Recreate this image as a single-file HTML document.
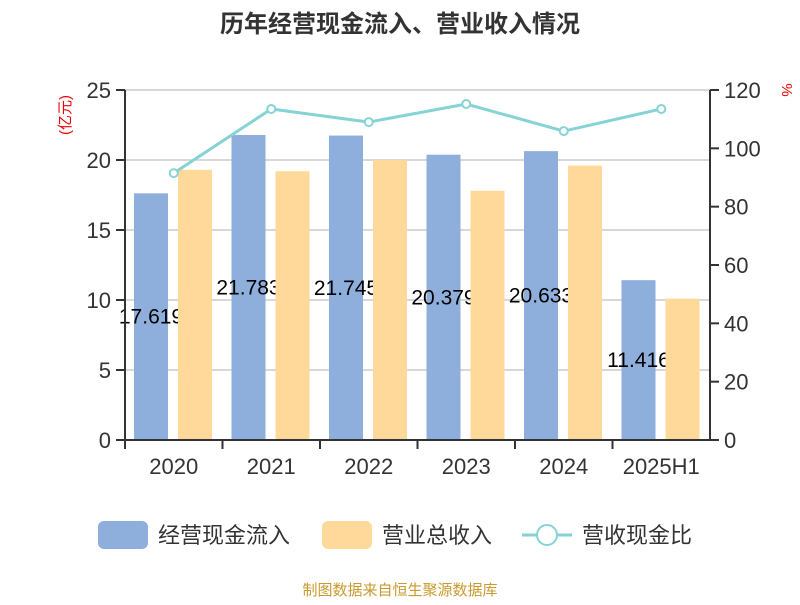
<!DOCTYPE html>
<html><head><meta charset="utf-8"><style>
body{margin:0;background:#fff;font-family:"Liberation Sans","Noto Sans CJK SC",sans-serif}
</style></head><body>
<svg width="800" height="600" xmlns="http://www.w3.org/2000/svg" font-family="Liberation Sans, Noto Sans CJK SC, sans-serif">
<text x="400" y="32" text-anchor="middle" font-size="24" font-weight="bold" fill="#333">历年经营现金流入、营业收入情况</text>
<text transform="translate(70,115) rotate(-90)" text-anchor="middle" font-size="15" fill="#e00">(亿元)</text>
<text transform="translate(782,90) rotate(90)" text-anchor="middle" font-size="15" fill="#e00">%</text>
<g id="grid"></g><g id="bars"></g><g id="axes"></g><g id="line"></g>
<g font-size="22" fill="#333">
<rect x="98" y="521" width="50" height="28" rx="6" fill="#8eaedb"/>
<text x="158" y="543">经营现金流入</text>
<rect x="322" y="521" width="50" height="28" rx="6" fill="#ffd999"/>
<text x="382" y="543">营业总收入</text>
<line x1="522" y1="535" x2="572" y2="535" stroke="#86d3d6" stroke-width="3"/>
<circle cx="547" cy="535" r="10" fill="#fff" stroke="#86d3d6" stroke-width="2"/>
<text x="582" y="543">营收现金比</text>
</g>
<text x="400" y="595" text-anchor="middle" font-size="15" fill="#c99a2e">制图数据来自恒生聚源数据库</text>
</svg>
<script>
const categories=["2020","2021","2022","2023","2024","2025H1"];
const inflow=[17.619,21.783,21.745,20.379,20.633,11.416];
const revenue=[19.3,19.2,20.0,17.8,19.6,10.1];
const ratio=[91.5,113.5,109,115.2,105.9,113.5];
const leftTicks=[0,5,10,15,20,25];
const rightTicks=[0,20,40,60,80,100,120];
const NS="http://www.w3.org/2000/svg";
const L=125,R=710,T=90,B=440;
const bw=(R-L)/categories.length;
const yL=v=>B-(v/25)*(B-T);
const yR=v=>B-(v/120)*(B-T);
function mk(tag,attrs,parent,txt){const e=document.createElementNS(NS,tag);for(const k in attrs)e.setAttribute(k,attrs[k]);if(txt!==undefined)e.textContent=txt;document.getElementById(parent).appendChild(e);return e;}
leftTicks.forEach(t=>{
 if(t>0){const g=mk('line',{x1:L,x2:R,y1:yL(t),y2:yL(t),stroke:'#ccc','stroke-width':1.5},'grid');
 
 }
 const tk=mk('line',{x1:L-9,x2:L,y1:yL(t),y2:yL(t),stroke:'#333','stroke-width':2},'axes');
 
 
 const lb=mk('text',{x:L-14,y:yL(t)+8,'text-anchor':'end','font-size':22,fill:'#333'},'axes',String(t));
 
 
});
rightTicks.forEach(t=>{
 const tk=mk('line',{x1:R,x2:R+9,y1:yR(t),y2:yR(t),stroke:'#333','stroke-width':2},'axes');
 
 
 const lb=mk('text',{x:R+14,y:yR(t)+8,'font-size':22,fill:'#333'},'axes',String(t));
 
 
});
let a=mk('line',{x1:L,x2:L,y1:T,y2:B,stroke:'#333','stroke-width':2},'axes');


a=mk('line',{x1:R,x2:R,y1:T,y2:B,stroke:'#333','stroke-width':2},'axes');


a=mk('line',{x1:L,x2:R,y1:B,y2:B,stroke:'#333','stroke-width':2},'axes');


categories.forEach((c,i)=>{
 const x0=L+i*bw;
 const tk=mk('line',{x1:x0,x2:x0,y1:B,y2:B+9,stroke:'#333','stroke-width':2},'axes');
 
 
 const lb=mk('text',{x:x0+bw/2,y:B+34,'text-anchor':'middle','font-size':22,fill:'#333'},'axes',c);
 
 
 const b1=mk('rect',{x:x0+9,y:yL(inflow[i]),width:34,height:B-yL(inflow[i]),fill:'#8eaedb'},'bars');
 
 
 const vl=mk('text',{x:x0+26,y:(B+yL(inflow[i]))/2+7,'text-anchor':'middle','font-size':21,fill:'#000'},'bars',inflow[i].toFixed(3));
 
 
});
categories.forEach((c,i)=>{
 const x0=L+i*bw;
 const b2=mk('rect',{x:x0+53,y:yL(revenue[i]),width:34,height:B-yL(revenue[i]),fill:'#ffd999'},'bars');
 
 
});
const pts=ratio.map((v,i)=>[L+i*bw+bw/2,yR(v)]);
const pl=mk('polyline',{points:pts.map(p=>p.join(',')).join(' '),fill:'none',stroke:'#86d3d6','stroke-width':3},'line');


pts.forEach((p,i)=>{
 const c=mk('circle',{cx:p[0],cy:p[1],r:4,fill:'#fff',stroke:'#86d3d6','stroke-width':2},'line');
 
 
});
</script>
</body></html>
